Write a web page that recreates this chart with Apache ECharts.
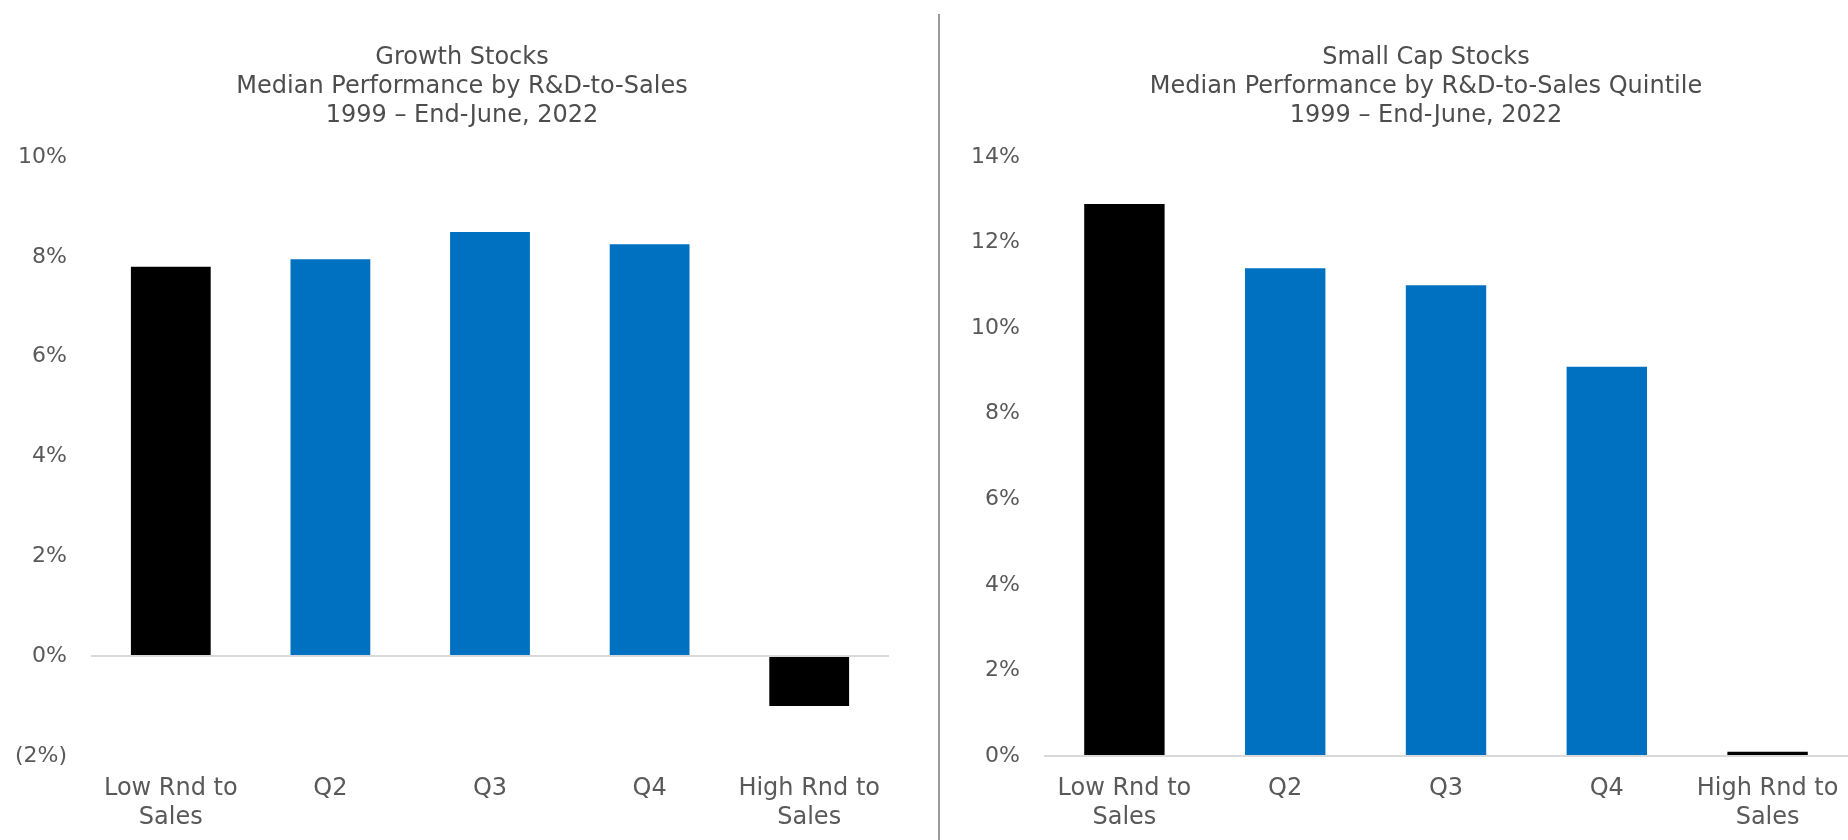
<!DOCTYPE html>
<html>
<head>
<meta charset="utf-8">
<script src="https://cdn.jsdelivr.net/npm/echarts@6/dist/echarts.min.js"></script>
<style>
  html, body { margin: 0; padding: 0; background: #fff; }
  #chart { width: 1848px; height: 840px; }
</style>
</head>
<body>
<div id="chart"></div>
<script>
// Quintile categories shared by both panels
const categories = ['Low Rnd to\nSales', 'Q2', 'Q3', 'Q4', 'High Rnd to\nSales'];

// Median performance (%) by R&D-to-sales quintile
const growthValues = [7.8, 7.95, 8.5, 8.25, -1.0];
const smallCapValues = [12.9, 11.4, 11.0, 9.1, 0.1];

// Axis tick ranges
const growthTicks = { min: -2, max: 10, step: 2 };
const smallCapTicks = { min: 0, max: 14, step: 2 };

const titleLines = {
  growth: 'Growth Stocks\nMedian Performance by R&D-to-Sales\n1999 – End-June, 2022',
  smallCap: 'Small Cap Stocks\nMedian Performance by R&D-to-Sales Quintile\n1999 – End-June, 2022'
};

const BLACK = '#000000';
const BLUE = '#0070c0';
const TEXT = '#595959';
const FONT = "'DejaVu Sans', 'Noto Sans', sans-serif";

// Extreme quintiles in black, middle quintiles in blue
function colored(values) {
  return values.map((v, i) => ({
    value: v,
    itemStyle: { color: (i === 0 || i === values.length - 1) ? BLACK : BLUE }
  }));
}

function pct(v) {
  return v < 0 ? '(' + Math.abs(v) + '%)' : v + '%';
}

function xAxisFor(gridIndex) {
  return {
    type: 'category',
    gridIndex: gridIndex,
    data: categories,
    axisLine: { show: false, onZero: false },
    axisTick: { show: false },
    axisLabel: {
      color: TEXT, fontSize: 24, fontFamily: FONT,
      lineHeight: 29, margin: 18, interval: 0
    }
  };
}

function yAxisFor(gridIndex, t) {
  return {
    type: 'value',
    gridIndex: gridIndex,
    min: t.min, max: t.max, interval: t.step,
    splitLine: { show: false },
    axisLine: { show: false },
    axisTick: { show: false },
    axisLabel: {
      color: TEXT, fontSize: 22, fontFamily: FONT, margin: 24,
      formatter: pct
    }
  };
}

const zeroLine = {
  silent: true,
  symbol: 'none',
  label: { show: false },
  lineStyle: { color: '#d9d9d9', type: 'solid', width: 2 },
  data: [{ yAxis: 0 }]
};

const titleStyle = { color: '#4d4d4d', fontSize: 24, fontWeight: 'normal', fontFamily: FONT, lineHeight: 29 };

const chart = echarts.init(document.getElementById('chart'), null, { renderer: 'canvas' });

chart.setOption({
  backgroundColor: '#ffffff',
  animation: false,
  title: [
    { text: titleLines.growth, left: 457, top: 38, textAlign: 'center', textStyle: titleStyle },
    { text: titleLines.smallCap, left: 1421, top: 38, textAlign: 'center', textStyle: titleStyle }
  ],
  grid: [
    { left: 91, right: 959, top: 157, bottom: 84 },
    { left: 1044, right: -6, top: 157, bottom: 84 }
  ],
  xAxis: [xAxisFor(0), xAxisFor(1)],
  yAxis: [yAxisFor(0, growthTicks), yAxisFor(1, smallCapTicks)],
  series: [
    {
      type: 'bar', xAxisIndex: 0, yAxisIndex: 0,
      barWidth: '50%',
      data: colored(growthValues),
      markLine: zeroLine
    },
    {
      type: 'bar', xAxisIndex: 1, yAxisIndex: 1,
      barWidth: '50%',
      data: colored(smallCapValues),
      markLine: zeroLine
    }
  ],
  graphic: [
    {
      type: 'line',
      shape: { x1: 939, y1: 14, x2: 939, y2: 840 },
      style: { stroke: '#9a9a9a', lineWidth: 2 },
      silent: true
    }
  ]
});
</script>
</body>
</html>
